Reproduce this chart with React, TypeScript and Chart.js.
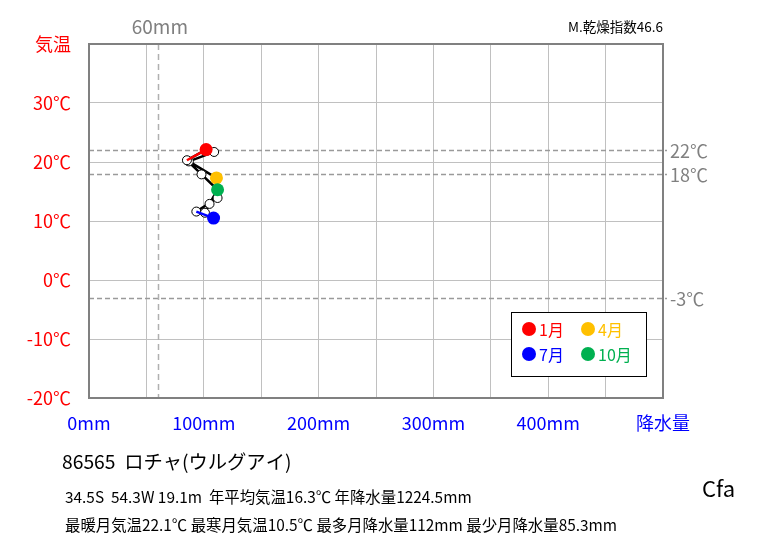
import React, { useEffect, useRef } from "react";
import { Chart, registerables } from "chart.js";
Chart.register(...registerables);

const months = ["1月", "2月", "3月", "4月", "5月", "6月", "7月", "8月", "9月", "10月", "11月", "12月"];
const precip = [102, 109, 87, 111, 112, 93.5, 108.5, 101, 105, 112, 98, 85.3];
const temp = [22.1, 21.7, 20.1, 17.3, 13.9, 11.6, 10.5, 11.4, 12.9, 15.3, 17.9, 20.3];
const keyMonths = [0, 3, 6, 9];
const keyColors = ["#FF0000", "#FFC000", "#0000FF", "#00B050"];
const keyLabels = ["1月", "4月", "7月", "10月"];
const highlightSegments = [
  { from: 11, to: 0, color: "#FF0000" },
  { from: 5, to: 6, color: "#0000FF" },
];
const refTemps = [22, 18, -3];
const refTempLabels = ["22℃", "18℃", "-3℃"];
const refPrecip = [60];
const refPrecipLabels = ["60mm"];
const xLabelEvery = 100;
const xMaxLabel = "降水量";
const yMaxLabel = "気温";
const stationLine = "86565  ロチャ(ウルグアイ)";
const infoLine1 = "34.5S  54.3W 19.1m  年平均気温16.3℃ 年降水量1224.5mm";
const infoLine2 = "最暖月気温22.1℃ 最寒月気温10.5℃ 最多月降水量112mm 最少月降水量85.3mm";
const climateClass = "Cfa";
const dryIndex = "M.乾燥指数46.6";

const FONT = '"Noto Sans CJK JP", "Noto Sans", sans-serif';

const overlay = {
  id: "overlay",
  beforeDatasetsDraw(chart: any) {
    const { ctx, chartArea: a, scales } = chart;
    const x = scales.x, y = scales.y;
    ctx.save();
    ctx.setLineDash([5, 3]);
    ctx.strokeStyle = "#9a9a9a";
    ctx.lineWidth = 1.5;
    refTemps.forEach((t) => {
      const py = Math.round(y.getPixelForValue(t)) + 0.5;
      ctx.beginPath();
      ctx.moveTo(a.left, py);
      ctx.lineTo(a.right + 4, py);
      ctx.stroke();
    });
    ctx.strokeStyle = "#b0b0b0";
    ctx.lineWidth = 1.5;
    ctx.setLineDash([6, 4]);
    refPrecip.forEach((p) => {
      const px = Math.round(x.getPixelForValue(p)) + 0.5;
      ctx.beginPath();
      ctx.moveTo(px, a.top);
      ctx.lineTo(px, a.bottom);
      ctx.stroke();
    });
    ctx.setLineDash([]);
    ctx.strokeStyle = "#808080";
    ctx.lineWidth = 2;
    ctx.strokeRect(a.left, a.top, a.right - a.left, a.bottom - a.top);
    ctx.restore();
  },
  afterDraw(chart: any) {
    const { ctx, chartArea: a, scales } = chart;
    const x = scales.x, y = scales.y;
    ctx.save();
    ctx.textBaseline = "middle";
    ctx.fillStyle = "#808080";
    ctx.font = `18px ${FONT}`;
    ctx.textAlign = "left";
    refTemps.forEach((t, i) => {
      ctx.fillText(refTempLabels[i], a.right + 7, y.getPixelForValue(t) + 1);
    });
    ctx.textAlign = "center";
    ctx.font = `19px ${FONT}`;
    refPrecip.forEach((p, i) => {
      ctx.fillText(refPrecipLabels[i], x.getPixelForValue(p) + 2, a.top - 17);
    });
    ctx.fillStyle = "#000";
    ctx.font = `13.5px ${FONT}`;
    ctx.textAlign = "right";
    ctx.fillText(dryIndex, a.right, a.top - 17);
    // legend
    const bx = a.left + 422, by = a.top + 268, bw = 135, bh = 64;
    ctx.fillStyle = "#fff";
    ctx.fillRect(bx, by, bw, bh);
    ctx.strokeStyle = "#000";
    ctx.lineWidth = 1;
    ctx.strokeRect(bx + 0.5, by + 0.5, bw, bh);
    ctx.font = `16px ${FONT}`;
    ctx.textAlign = "left";
    keyLabels.forEach((lab, i) => {
      const col = i % 2;
      const row = i < 2 ? 0 : 1;
      const cx = bx + 18 + col * 59;
      const cy = by + 17 + row * 25;
      ctx.fillStyle = keyColors[i];
      ctx.beginPath();
      ctx.arc(cx, cy, 7, 0, Math.PI * 2);
      ctx.fill();
      ctx.fillText(lab, cx + 10, cy + 1);
    });
    // bottom texts
    ctx.fillStyle = "#000";
    ctx.font = `19.3px ${FONT}`;
    ctx.fillText(stationLine, 62, 462);
    ctx.font = `15.4px ${FONT}`;
    ctx.fillText(infoLine1, 65, 497);
    ctx.fillText(infoLine2, 65, 525);
    ctx.font = `22px ${FONT}`;
    ctx.fillText(climateClass, 702, 489);
    ctx.restore();
  },
};

export default function App() {
  const ref = useRef<HTMLCanvasElement | null>(null);
  useEffect(() => {
    if (!ref.current) return;
    const lineData = [...months, months[0]].map((_, i) => ({
      x: precip[i % 12],
      y: temp[i % 12],
    }));
    const keyData = keyMonths.map((i) => ({ x: precip[i], y: temp[i] }));
    const segDatasets = highlightSegments.map((s) => ({
      label: "seg",
      data: [
        { x: precip[s.from], y: temp[s.from] },
        { x: precip[s.to], y: temp[s.to] },
      ],
      showLine: true,
      borderColor: s.color,
      borderWidth: 2.5,
      pointRadius: 0,
      order: 1,
    }));
    const chart = new Chart(ref.current, {
      type: "scatter",
      data: {
        datasets: [
          {
            label: "key",
            data: keyData,
            pointRadius: 6.5,
            pointBackgroundColor: keyColors,
            pointBorderColor: keyColors,
            pointBorderWidth: 0,
            showLine: false,
            order: 0,
          },
          ...segDatasets,
          {
            label: "cycle",
            data: lineData,
            showLine: true,
            borderColor: "#000",
            borderWidth: 2.5,
            pointRadius: lineData.map((_, i) => (i === 12 ? 0 : 4.5)),
            pointBackgroundColor: "#fff",
            pointBorderColor: "#000",
            pointBorderWidth: 1,
            order: 2,
          },
        ],
      },
      options: {
        responsive: false,
        animation: false,
        layout: { padding: { top: 44, right: 100, left: 0, bottom: 0 } },
        plugins: { legend: { display: false }, tooltip: { enabled: false } },
        scales: {
          x: {
            type: "linear",
            min: 0,
            max: 500,
            ticks: {
              stepSize: 50,
              autoSkip: false,
              maxRotation: 0,
              padding: 14,
              color: "#0000FF",
              font: { family: FONT, size: 18 },
              callback: (v: any) =>
                v === 500 ? xMaxLabel : v % xLabelEvery === 0 ? `${v}mm` : "",
            },
            grid: { color: "#c0c0c0", lineWidth: 1, drawTicks: false },
            border: { display: false },
            afterFit: (s: any) => {
              s.height = 545 - 398;
            },
          },
          y: {
            type: "linear",
            min: -20,
            max: 40,
            ticks: {
              stepSize: 10,
              padding: 18,
              color: "#FF0000",
              font: { family: FONT, size: 18 },
              callback: (v: any) => (v === 40 ? yMaxLabel : `${v}℃`),
            },
            grid: { color: "#c0c0c0", lineWidth: 1, drawTicks: false },
            border: { display: false },
            afterFit: (s: any) => {
              s.width = 89;
            },
          },
        },
      },
      plugins: [overlay],
    });
    return () => chart.destroy();
  }, []);
  return (
    <div style={{ position: "absolute", left: 0, top: 0, width: 763, height: 545, background: "#fff" }}>
      <canvas ref={ref} width={763} height={545} />
    </div>
  );
}
